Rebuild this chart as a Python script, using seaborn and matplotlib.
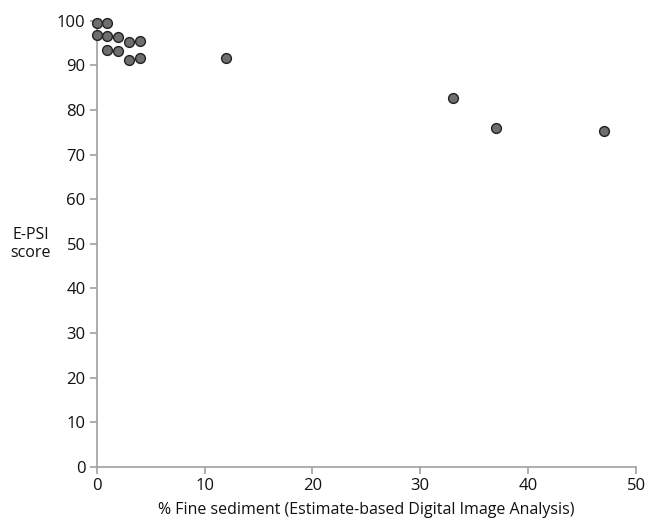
import matplotlib
matplotlib.use("Agg")
import matplotlib.pyplot as plt
import seaborn as sns
import pandas as pd

fine_sediment = [0, 1, 0, 1, 2, 3, 4, 1, 2, 3, 4, 12, 33, 37, 47]
epsi_score = [99.6, 99.5, 96.8, 96.6, 96.4, 95.3, 95.5, 93.4, 93.2, 91.2, 91.7, 91.7, 82.6, 76.0, 75.2]
x_ticks = [0, 10, 20, 30, 40, 50]
y_ticks = [0, 10, 20, 30, 40, 50, 60, 70, 80, 90, 100]

df = pd.DataFrame({"sed": fine_sediment, "epsi": epsi_score})

sns.set_theme(style="white")
plt.rcParams["font.family"] = ["Open Sans", "DejaVu Sans"]

fig = plt.figure(figsize=(6.49, 5.2), dpi=100)
ax = fig.add_axes([0.149, 0.102, 0.831, 0.858])

sns.scatterplot(ax=ax, data=df, x="sed", y="epsi", color="#6e6e6e",
                edgecolor="#222222", linewidth=1.0, s=50, clip_on=False, zorder=3)

ax.set_xlim(0, 50)
ax.set_ylim(0, 100)
ax.set_xticks(x_ticks)
ax.set_yticks(y_ticks)
for s in ["top", "right"]:
    ax.spines[s].set_visible(False)
for s in ["left", "bottom"]:
    ax.spines[s].set_color("#a0a0a0")
    ax.spines[s].set_linewidth(1.2)
ax.tick_params(axis="both", which="both", direction="out", length=5, width=1.2,
               color="#a0a0a0", labelsize=12, labelcolor="#111111",
               bottom=True, left=True, pad=3)
ax.set_xlabel("% Fine sediment (Estimate-based Digital Image Analysis)", fontsize=11.5,
              color="#111111", labelpad=6)
ax.set_ylabel("E-PSI\nscore", fontsize=11.5, rotation=0, color="#111111", labelpad=19,
              va="center", ha="center")

fig.savefig("out.png", dpi=100)
